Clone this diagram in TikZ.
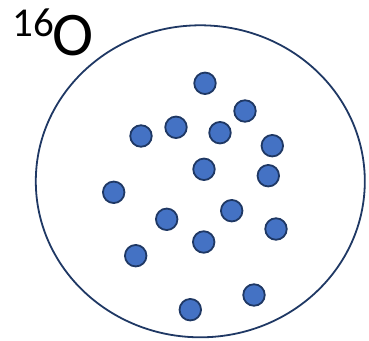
\documentclass[tikz,border=0pt]{standalone}
\usepackage{fontspec}
\setmainfont{Carlito}
\usetikzlibrary{shapes.geometric,positioning}
\definecolor{NucleonBlue}{HTML}{4472C4}
\definecolor{EdgeNavy}{HTML}{1F3864}

\begin{document}
\begin{tikzpicture}[
    x=1pt, y=-1pt,
    nucleus/.style={draw=EdgeNavy, line width=1.8pt, ellipse, inner sep=0pt,
                    minimum width=329pt, minimum height=312pt},
    nucleon/.style={draw=EdgeNavy, fill=NucleonBlue, circle, line width=1.8pt,
                    inner sep=0pt, minimum size=21.5pt},
    symbol/.style={inner sep=0pt, font=\fontsize{62}{62}\selectfont},
    massnum/.style={inner sep=0pt, font=\fontsize{41}{41}\selectfont},
  ]
    \useasboundingbox (0,0) rectangle (369,340);
    % nucleus outline
    \node[nucleus] (nucleus) at (200.3,181.3) {};
    % element label
    \node[symbol, anchor=base west] (elem) at (52,55) {O};
    \node[massnum, anchor=base east] (mass) at ([xshift=2pt,yshift=18.5pt]elem.base west) {16};
    % nucleons
    \foreach \px/\py [count=\i] in {205/83.3, 245/111, 176/127.3, 141/136,
        220/132.7, 272.3/145.7, 204/169.3, 268.3/175.7, 113.7/192.3,
        231.7/210.7, 166.7/219.3, 276/229, 203.7/242, 135.7/255.7,
        254/295, 190.3/309.7}
      \node[nucleon] (n\i) at (\px,\py) {};
  \end{tikzpicture}
\end{document}
